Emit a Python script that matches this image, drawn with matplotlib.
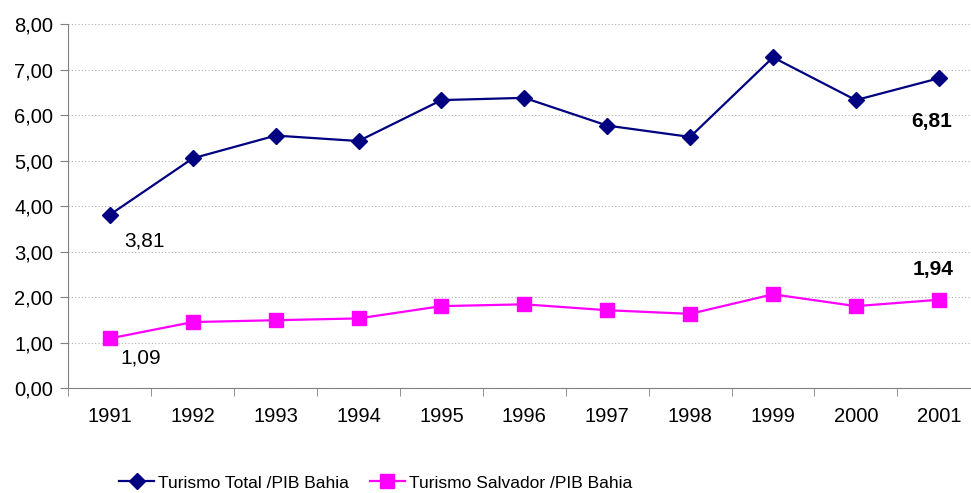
import numpy as np
import matplotlib.pyplot as plt
from matplotlib.ticker import FixedLocator

plt.rcParams['font.family'] = ['Liberation Sans', 'DejaVu Sans']

anos = ["1991", "1992", "1993", "1994", "1995", "1996", "1997", "1998", "1999", "2000", "2001"]
turismo_total = [3.81, 5.05, 5.55, 5.43, 6.33, 6.38, 5.77, 5.52, 7.27, 6.33, 6.81]
turismo_salvador = [1.09, 1.45, 1.49, 1.53, 1.80, 1.84, 1.71, 1.63, 2.06, 1.80, 1.94]

fig = plt.figure(figsize=(9.71, 4.93), dpi=100)
ax = fig.add_axes([0.0705, 0.213, 0.939, 0.738])

x = np.arange(len(anos))
l1, = ax.plot(x, turismo_total, color="#000080", lw=1.6, marker="D", ms=8,
              label="Turismo Total /PIB Bahia")
l2, = ax.plot(x, turismo_salvador, color="#FF00FF", lw=1.6, marker="s", ms=10,
              label="Turismo Salvador /PIB Bahia")

# rótulos de dados
fmt = lambda v: f"{v:.2f}".replace(".", ",")
ax.annotate(fmt(turismo_total[0]), (x[0], turismo_total[0]), xytext=(25, -19),
            textcoords="offset points", ha="center", va="center", fontsize=15)
ax.annotate(fmt(turismo_salvador[0]), (x[0], turismo_salvador[0]), xytext=(22, -14),
            textcoords="offset points", ha="center", va="center", fontsize=15)
ax.annotate(fmt(turismo_total[-1]), (x[-1], turismo_total[-1]), xytext=(-5, -31),
            textcoords="offset points", ha="center", va="center", fontsize=15, fontweight="bold")
ax.annotate(fmt(turismo_salvador[-1]), (x[-1], turismo_salvador[-1]), xytext=(-4, 22),
            textcoords="offset points", ha="center", va="center", fontsize=15, fontweight="bold")

ax.set_xlim(-0.5, len(anos) - 0.5)
ax.set_ylim(0, 8)
ax.set_yticks(np.arange(0, 9, 1))
ax.set_yticklabels([fmt(v) for v in np.arange(0, 9, 1)], fontsize=14.5)
ax.set_xticks(x)
ax.set_xticklabels(anos, fontsize=14.5)
ax.xaxis.set_minor_locator(FixedLocator(np.arange(-0.5, len(anos), 1)))
ax.tick_params(axis="x", which="major", length=0, pad=14)
ax.tick_params(axis="x", which="minor", length=6, color="#808080")
ax.tick_params(axis="y", length=6, color="#808080", pad=5)

ax.grid(axis="y", color="#b0b0b0", linestyle=(0, (1, 2)), lw=0.8)
ax.set_axisbelow(True)
for s in ["top", "right"]:
    ax.spines[s].set_visible(False)
for s in ["left", "bottom"]:
    ax.spines[s].set_color("#808080")

fig.legend(handles=[l1, l2], loc="center", bbox_to_anchor=(0.387, 1 - 483 / 493),
           ncol=2, frameon=False, handlelength=2.0, columnspacing=1.2,
           handletextpad=0.25, fontsize=12.5)

fig.savefig("out.png", dpi=100)
